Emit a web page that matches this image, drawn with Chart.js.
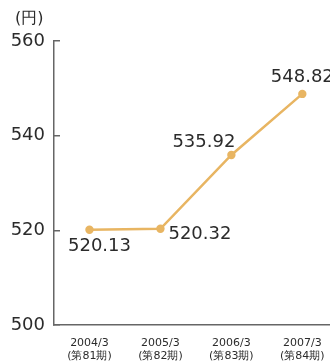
<!DOCTYPE html>
<html><head><meta charset="utf-8">
<script src="https://cdn.jsdelivr.net/npm/chart.js@4/dist/chart.umd.min.js"></script>
<style>
html,body{margin:0;padding:0;background:#fff;overflow:hidden;width:330px;height:362px;}
#wrap{width:342px;height:362px;position:relative;}
</style></head><body>
<div id="wrap"><canvas id="c" width="342" height="362"></canvas></div>
<script>
const categories = [['2004/3','(第81期)'],['2005/3','(第82期)'],['2006/3','(第83期)'],['2007/3','(第84期)']];
const values = [520.13, 520.32, 535.92, 548.82];
const valueLabels = ['520.13','520.32','535.92','548.82'];
const yTicks = [500, 520, 540, 560];
const unitLabel = '(円)';

const FONT = '"DejaVu Sans", sans-serif';
const labelOffsets = [[10, 17, 'center'], [8, 6, 'left'], [4, -13, 'right'], [0, -17, 'center']];

const labelPlugin = {
  id: 'labels',
  afterDatasetsDraw(chart) {
    const ctx = chart.ctx;
    const meta = chart.getDatasetMeta(0);
    ctx.save();
    ctx.fillStyle = '#2b2b2b';
    ctx.font = '18px ' + FONT;
    ctx.textBaseline = 'middle';
    meta.data.forEach((pt, i) => {
      const o = labelOffsets[i];
      ctx.textAlign = o[2];
      ctx.fillText(valueLabels[i], pt.x + o[0], pt.y + o[1]);
    });
    ctx.font = '16px ' + FONT;
    ctx.textAlign = 'left';
    ctx.fillText(unitLabel, 15, chart.chartArea.top - 22);
    ctx.restore();
  }
};

new Chart(document.getElementById('c'), {
  type: 'line',
  data: {
    labels: categories,
    datasets: [{
      data: values,
      borderColor: '#E8B562',
      backgroundColor: '#E8B562',
      borderWidth: 2.5,
      pointRadius: 4.2,
      pointHoverRadius: 4.2,
      pointBackgroundColor: '#E8B562',
      pointBorderWidth: 0,
      tension: 0
    }]
  },
  options: {
    responsive: false,
    animation: false,
    events: [],
    layout: { padding: { top: 41, right: 0, left: 0, bottom: 0 } },
    plugins: { legend: { display: false }, tooltip: { enabled: false } },
    scales: {
      x: {
        offset: true,
        grid: { display: false, drawOnChartArea: false, drawTicks: false },
        border: { display: true, color: '#666', width: 1.5 },
        ticks: { color: '#2b2b2b', font: { size: 11, family: FONT, lineHeight: 1.15 }, padding: 12, maxRotation: 0, autoSkip: false },
        afterFit(s) { s.height = 37; }
      },
      y: {
        min: 500, max: 560,
        afterBuildTicks(s) { s.ticks = yTicks.map(v => ({ value: v })); },
        grid: { drawOnChartArea: false, drawTicks: true, tickLength: -6, color: '#666', lineWidth: 1.5 },
        border: { display: true, color: '#666', width: 1.5 },
        ticks: { color: '#2b2b2b', font: { size: 18, family: FONT }, padding: 15 },
        afterFit(s) { s.width = 54; }
      }
    }
  },
  plugins: [labelPlugin]
});
</script>
</body></html>
